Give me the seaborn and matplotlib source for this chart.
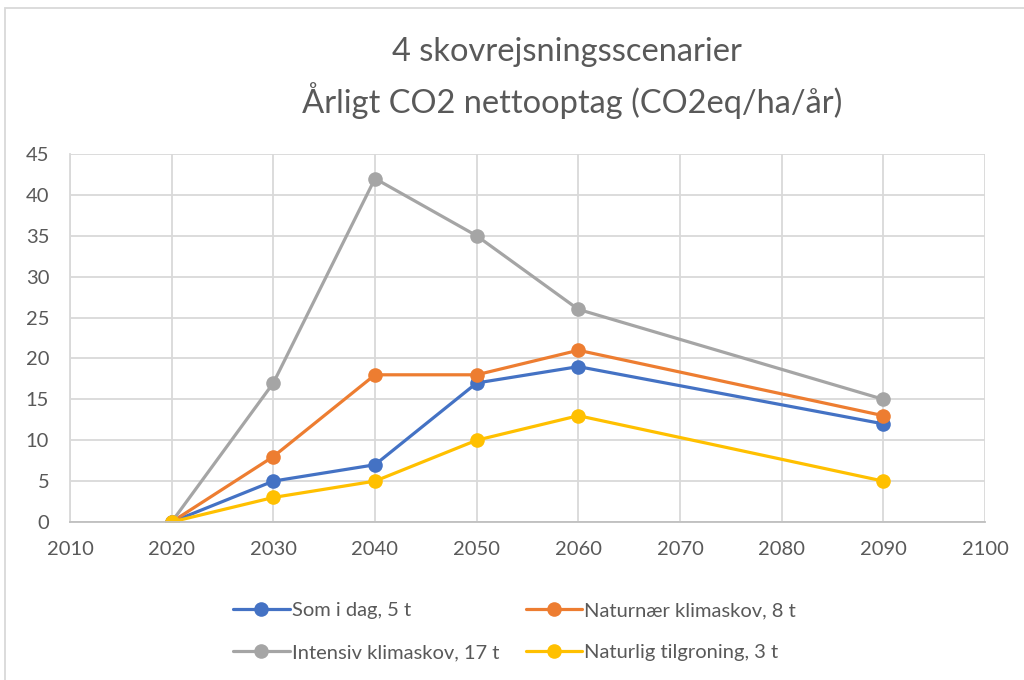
import seaborn as sns
import matplotlib.pyplot as plt
from matplotlib.patches import Rectangle

years = [2020, 2030, 2040, 2050, 2060, 2090]
som_i_dag = [0, 5, 7, 17, 19, 12]
naturnaer = [0, 8, 18, 18, 21, 13]
intensiv = [0, 17, 42, 35, 26, 15]
naturlig = [0, 3, 5, 10, 13, 5]

names = ['Som i dag, 5 t', 'Naturnær klimaskov, 8 t',
         'Intensiv klimaskov, 17 t', 'Naturlig tilgroning, 3 t']
series = [som_i_dag, naturnaer, intensiv, naturlig]
colors = ['#4472C4', '#ED7D31', '#A5A5A5', '#FFC000']

sns.set_style('white')
plt.rcParams['font.family'] = ['Lato', 'DejaVu Sans']

fig = plt.figure(figsize=(10.24, 6.8), dpi=100)
ax = fig.add_axes([70 / 1024, 1 - 522 / 680, 915 / 1024, 368 / 680])

for name, vals, c in zip(names, series, colors):
    sns.lineplot(x=years, y=vals, color=c, marker='o', markersize=10.5,
                 markeredgewidth=0, linewidth=2.3, label=name, ax=ax)

ax.set_xlim(2010, 2100)
ax.set_ylim(0, 45)
ax.set_xticks(range(2010, 2101, 10))
ax.set_yticks(range(0, 46, 5))
ax.grid(True, color='#D9D9D9', linewidth=1.3)
ax.set_axisbelow(True)
for s in ['top', 'right']:
    ax.spines[s].set_visible(False)
ax.spines['left'].set_color('#D9D9D9')
ax.spines['left'].set_linewidth(1.3)
ax.spines['bottom'].set_color('#BFBFBF')
ax.spines['bottom'].set_linewidth(1.3)
ax.tick_params(length=0, labelsize=14.5, colors='#595959', pad=14)
ax.tick_params(axis='y', pad=15)

fig.text(567 / 1024, 1 - 52 / 680, '4 skovrejsningsscenarier', ha='center',
         va='center', fontsize=23.5, color='#595959')
fig.text(572 / 1024, 1 - 101 / 680, 'Årligt CO2 nettooptag (CO2eq/ha/år)',
         ha='center', va='center', fontsize=23.5, color='#595959')

# row-wise legend order
handles, labels = ax.get_legend_handles_labels()
order = [0, 2, 1, 3]
leg = ax.legend([handles[i] for i in order], [labels[i] for i in order],
                ncol=2, loc='upper left', bbox_to_anchor=(215 / 1024, 1 - 584 / 680),
                bbox_transform=fig.transFigure, frameon=False, fontsize=14.5,
                handlelength=2.8, handletextpad=0.1, columnspacing=1.35,
                labelspacing=1.25)
for t in leg.get_texts():
    t.set_color('#595959')

fig.patches.append(Rectangle((5 / 1024, -0.02), 1.1, 1 - 8 / 680 + 0.02,
                             transform=fig.transFigure, fill=False,
                             edgecolor='#D9D9D9', linewidth=1.3))

fig.savefig('out.png', dpi=100)
